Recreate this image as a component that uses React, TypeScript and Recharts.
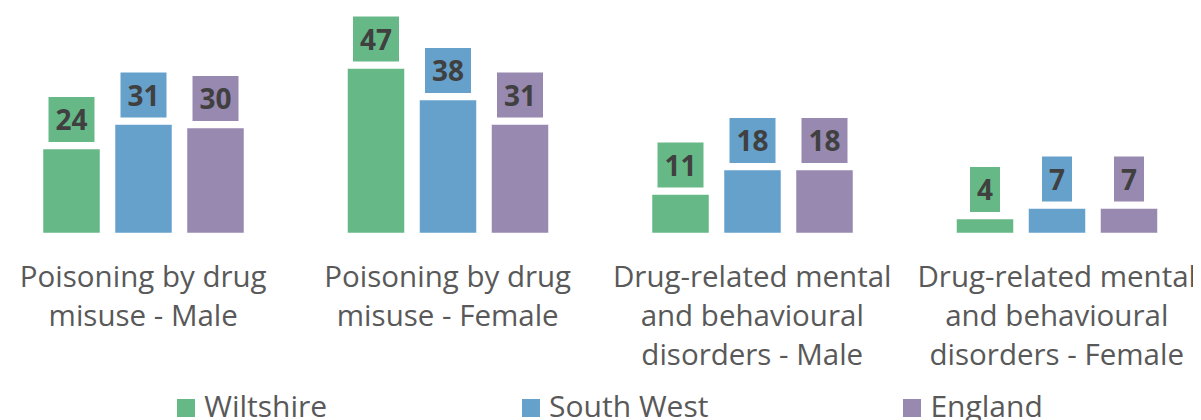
import { BarChart, Bar, XAxis, YAxis, LabelList } from "recharts";

const categories = [
  "Poisoning by drug|misuse - Male",
  "Poisoning by drug|misuse - Female",
  "Drug-related mental|and behavioural|disorders - Male",
  "Drug-related mental|and behavioural|disorders - Female",
];
const wiltshire = [24, 47, 11, 4];
const southWest = [31, 38, 18, 7];
const england = [30, 31, 18, 7];

const series = [
  { key: "wiltshire", name: "Wiltshire", color: "#66b987" },
  { key: "southWest", name: "South West", color: "#66a1cc" },
  { key: "england", name: "England", color: "#9889b0" },
];

const data = categories.map((label, i) => ({
  label,
  wiltshire: wiltshire[i],
  southWest: southWest[i],
  england: england[i],
}));

const FONT = '"Open Sans", "Noto Sans", sans-serif';

function CategoryTick({ x, y, payload }: any) {
  const lines = String(payload.value).split("|");
  return (
    <text x={x} y={y} textAnchor="middle" fontSize={29.5} fill="#595959" fontFamily={FONT}>
      {lines.map((line, i) => (
        <tspan key={i} x={x} dy={i === 0 ? 54 : 39}>
          {line}
        </tspan>
      ))}
    </text>
  );
}

function valueBox(fill: string) {
  return function ValueBox(props: any) {
    const { x, y, width, value } = props;
    const w = String(value).length * 16 + 14;
    const h = 45;
    const cx = x + width / 2;
    const bottom = y - 7;
    return (
      <g>
        <rect x={cx - w / 2} y={bottom - h} width={w} height={h} fill={fill} />
        <text
          x={cx}
          y={bottom - 12}
          textAnchor="middle"
          fontSize={28}
          fontWeight={700}
          fill="#404040"
          fontFamily={FONT}
        >
          {value}
        </text>
      </g>
    );
  };
}

export default function App() {
  return (
    <div style={{ position: "relative", width: 1218, height: 420, marginLeft: -17, marginTop: -8, fontFamily: FONT }}>
      <div
        style={{
          position: "absolute",
          top: -30,
          left: 0,
          width: 1218,
          textAlign: "center",
          fontSize: 29,
          lineHeight: "40px",
          color: "#595959",
          whiteSpace: "nowrap",
        }}
      >
        Mortality rate per 100000 population, 2017-19
      </div>
      <BarChart
        width={1218}
        height={420}
        data={data}
        margin={{ top: 58, right: 0, left: 0, bottom: 0 }}
        barSize={57}
        barGap={15}
      >
        <XAxis
          dataKey="label"
          axisLine={false}
          tickLine={false}
          tickSize={0}
          tickMargin={0}
          height={187}
          interval={0}
          tick={<CategoryTick />}
        />
        <YAxis hide domain={[0, 50]} />
        {series.map((s) => (
          <Bar
            key={s.key}
            dataKey={s.key}
            name={s.name}
            fill={s.color}
            stroke="#ffffff"
            strokeOpacity={0.5}
            strokeWidth={1}
            isAnimationActive={false}
          >
            <LabelList dataKey={s.key} content={valueBox(s.color)} />
          </Bar>
        ))}
      </BarChart>
      <div
        style={{
          position: "absolute",
          top: 386,
          left: 0,
          width: 1218,
          paddingLeft: 20,
          boxSizing: "border-box",
          display: "flex",
          justifyContent: "center",
          gap: 195,
          fontSize: 30,
          lineHeight: "40px",
          color: "#595959",
        }}
      >
        {series.map((s) => (
          <div key={s.key} style={{ display: "flex", alignItems: "flex-start" }}>
            <span style={{ width: 18, height: 18, marginTop: 13, marginRight: 9, background: s.color }} />
            <span>{s.name}</span>
          </div>
        ))}
      </div>
    </div>
  );
}
